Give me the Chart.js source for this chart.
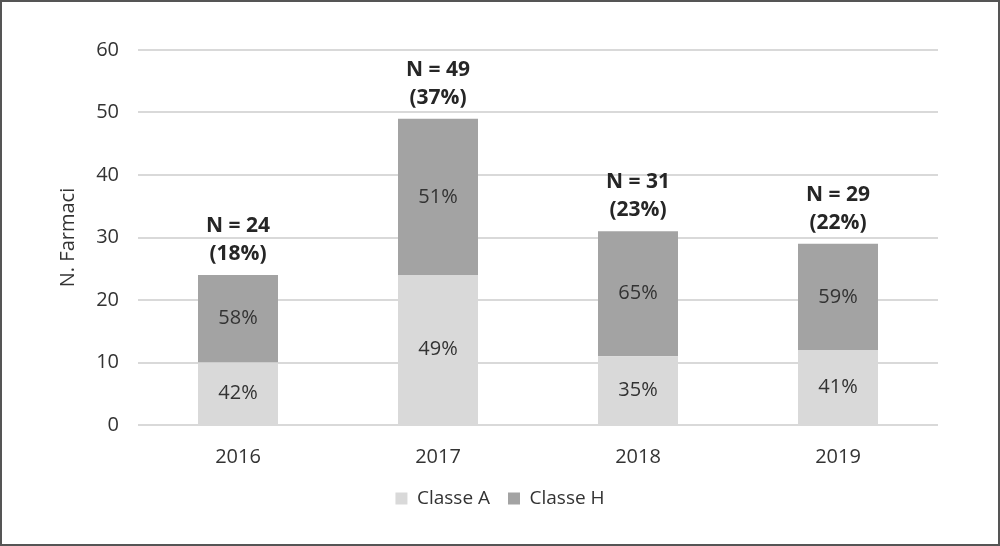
<!DOCTYPE html>
<html>
<head>
<meta charset="utf-8">
<script src="https://cdn.jsdelivr.net/npm/chart.js@4.4.1/dist/chart.umd.min.js"></script>
<style>
  html, body { margin: 0; padding: 0; background: #fff; }
  #wrap { width: 1000px; height: 546px; box-sizing: border-box; border: 2px solid #555; position: relative; }
  #wrap canvas { display: block; }
</style>
</head>
<body>
<div id="wrap"><canvas id="farmaciChart" width="996" height="542"></canvas></div>
<script>
// Data
const years = ['2016', '2017', '2018', '2019'];
const classeA = [10, 24, 11, 12];
const classeH = [14, 25, 20, 17];
const pctA = ['42%', '49%', '35%', '41%'];
const pctH = ['58%', '51%', '65%', '59%'];
const totalLabels = ['N = 24', 'N = 49', 'N = 31', 'N = 29'];
const totalPct = ['(18%)', '(37%)', '(23%)', '(22%)'];

const fontFamily = "'Open Sans', 'Noto Sans', sans-serif";

// Draws the percentage inside each segment and the N labels above the bars
const barLabels = {
    id: 'barLabels',
    afterDatasetsDraw(chart) {
        const ctx = chart.ctx;
        const insideText = [pctA, pctH];
        ctx.save();
        ctx.textAlign = 'center';
        ctx.textBaseline = 'middle';
        ctx.fillStyle = '#333';
        ctx.font = '20px ' + fontFamily;
        chart.data.datasets.forEach((ds, i) => {
            const meta = chart.getDatasetMeta(i);
            meta.data.forEach((bar, j) => {
                const mid = (bar.y + bar.base) / 2;
                ctx.fillText(insideText[i][j], bar.x, mid);
            });
        });
        const topMeta = chart.getDatasetMeta(1);
        ctx.font = 'bold 21px ' + fontFamily;
        ctx.fillStyle = '#262626';
        topMeta.data.forEach((bar, j) => {
            ctx.fillText(totalLabels[j], bar.x, bar.y - 49);
            ctx.fillText(totalPct[j], bar.x, bar.y - 21);
        });
        ctx.restore();
    }
};

const ctx = document.getElementById('farmaciChart').getContext('2d');
const farmaciChart = new Chart(ctx, {
    type: 'bar',
    data: {
        labels: years,
        datasets: [
            {
                label: 'Classe A',
                data: classeA,
                backgroundColor: '#d9d9d9',
                barPercentage: 0.4,
                categoryPercentage: 1.0
            },
            {
                label: 'Classe H',
                data: classeH,
                backgroundColor: '#a3a3a3',
                barPercentage: 0.4,
                categoryPercentage: 1.0
            }
        ]
    },
    plugins: [barLabels],
    options: {
        responsive: false,
        animation: false,
        layout: {
            padding: { top: 48, right: 0, left: 0, bottom: 26 }
        },
        scales: {
            x: {
                stacked: true,
                grid: { display: false },
                border: { display: false },
                ticks: { color: '#333', font: { size: 20, family: fontFamily }, padding: 12 },
                afterFit(scale) { scale.height = 46; }
            },
            y: {
                stacked: true,
                min: 0,
                max: 60,
                ticks: { stepSize: 10, color: '#333', font: { size: 20, family: fontFamily }, padding: 19 },
                grid: { color: '#d9d9d9', lineWidth: 2, drawTicks: false },
                border: { display: false },
                title: {
                    display: true,
                    text: 'N. Farmaci',
                    color: '#333',
                    font: { size: 20, family: fontFamily },
                    padding: { top: 54, bottom: 0 }
                },
                afterFit(scale) { scale.width = 136; }
            },
            // empty right axis, only reserves the white margin on the right
            yRight: {
                position: 'right',
                grid: { display: false },
                border: { display: false },
                ticks: { display: false },
                afterFit(scale) { scale.width = 60; }
            }
        },
        plugins: {
            legend: {
                position: 'bottom',
                labels: {
                    boxWidth: 12,
                    boxHeight: 12,
                    color: '#333',
                    font: { size: 19, family: fontFamily },
                    padding: 18
                }
            },
            tooltip: { enabled: false }
        }
    }
});
</script>
</body>
</html>
